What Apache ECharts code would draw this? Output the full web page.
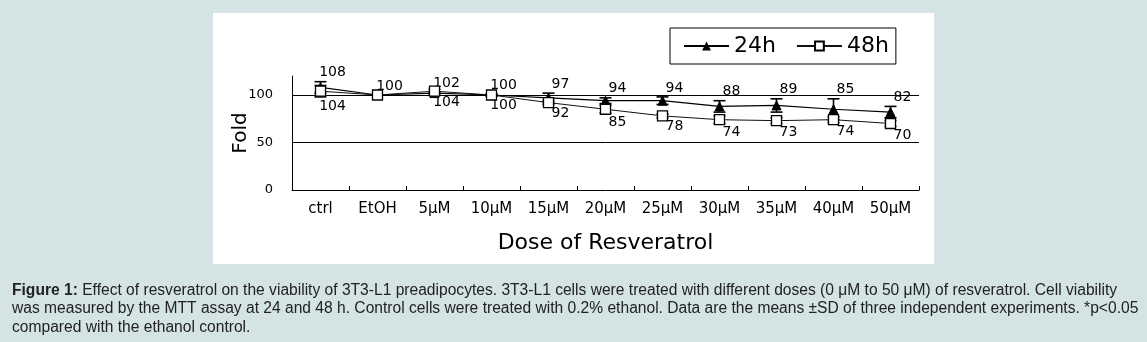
<!DOCTYPE html>
<html>
<head>
<meta charset="utf-8">
<script src="https://cdn.jsdelivr.net/npm/echarts@6/dist/echarts.min.js"></script>
<style>
html,body{margin:0;padding:0;background:#d4e3e4;}
#c{width:1147px;height:342px;}
</style>
</head>
<body>
<div id="c"></div>
<script>
var categories = ['ctrl','EtOH','5μM','10μM','15μM','20μM','25μM','30μM','35μM','40μM','50μM'];
var h24 = [108,100,102,100,97,94,94,88,89,85,82];
var h24sd = [6,0,1,1,5,3,4,6,7,11,6];
var h48 = [104,100,104,100,92,85,78,74,73,74,70];
var h48sd = [6,0,2,1,2,4,2,4,3,3,3];
var yTicks = [0,50,100];

var FONT = 'DejaVu Sans';
var chart = echarts.init(document.getElementById('c'));

function errData(vals, sds){
  return vals.map(function(v,i){ return [i, v, sds[i]]; });
}
function makeErr(labelAbove){
  return function(params, api){
    var x = api.value(0), v = api.value(1), sd = api.value(2);
    var top = api.coord([x, v + sd]);
    var bot = api.coord([x, v - sd]);
    var hw = 6;
    var st = {stroke:'#000', lineWidth:1.6};
    var children = [];
    if (sd > 0) {
      children.push({type:'line', shape:{x1:top[0],y1:top[1],x2:bot[0],y2:bot[1]}, style:st});
      children.push({type:'line', shape:{x1:top[0]-hw,y1:top[1],x2:top[0]+hw,y2:top[1]}, style:st});
      children.push({type:'line', shape:{x1:bot[0]-hw,y1:bot[1],x2:bot[0]+hw,y2:bot[1]}, style:st});
    }
    var show = labelAbove || x !== 1;
    if (show) {
      var p = labelAbove ? top : bot;
      children.push({type:'text', x:p[0]+12, y:p[1] + (labelAbove ? -9 : 9),
        style:{text:String(v), fill:'#000', font:'14px "' + FONT + '"', textAlign:'center', textVerticalAlign:'middle'}});
    }
    return {type:'group', children:children};
  };
}

var option = {
  backgroundColor:'#d4e3e4',
  animation:false,
  title:{
    text:'{b|Figure 1:} Effect of resveratrol on the viability of 3T3-L1 preadipocytes. 3T3-L1 cells were treated with different doses (0 μM to 50 μM) of resveratrol. Cell viability\nwas measured by the MTT assay at 24 and 48 h. Control cells were treated with 0.2% ethanol. Data are the means ±SD of three independent experiments. *p<0.05\ncompared with the ethanol control.',
    left:12, top:281, padding:0,
    textStyle:{fontFamily:'Liberation Sans', fontSize:15.6, fontWeight:'normal', color:'#222', lineHeight:18.5,
      rich:{b:{fontFamily:'Liberation Sans', fontSize:15.6, fontWeight:'bold', color:'#222', lineHeight:18.5}}}
  },
  graphic:[{type:'rect', z:-10, shape:{x:213,y:13,width:721,height:251}, style:{fill:'#fff'}}],
  legend:{
    left:670, top:28, orient:'horizontal',
    backgroundColor:'#fff', borderColor:'#000', borderWidth:1, padding:[7,7,7,13],
    itemGap:20, itemWidth:45, itemHeight:11,
    textStyle:{fontFamily:FONT, fontSize:22, color:'#000'},
    data:['24h','48h']
  },
  grid:{left:292, right:228, top:76, bottom:152},
  xAxis:{
    type:'category', data:categories, boundaryGap:true,
    axisLine:{lineStyle:{color:'#000', width:1}},
    axisTick:{show:true, inside:true, length:4, lineStyle:{color:'#000'}},
    axisLabel:{fontFamily:FONT, fontSize:15, color:'#000', margin:12},
    name:'Dose of Resveratrol', nameLocation:'middle', nameGap:42, nameMoveOverlap:false,
    nameTextStyle:{fontFamily:FONT, fontSize:22, color:'#000'}
  },
  yAxis:{
    type:'value', min:0, max:120, interval:50,
    axisLine:{show:true, lineStyle:{color:'#000', width:1}},
    axisTick:{show:false},
    axisLabel:{fontFamily:FONT, fontSize:13, color:'#000', margin:19,
      formatter:function(v){ return yTicks.indexOf(v) >= 0 ? String(v) : ''; }},
    splitLine:{show:true, showMinLine:false, showMaxLine:false, lineStyle:{color:'#000', width:1}},
    name:'Fold', nameLocation:'middle', nameGap:41, nameRotate:90, nameMoveOverlap:false,
    nameTextStyle:{fontFamily:FONT, fontSize:20, color:'#000'}
  },
  series:[
    {type:'custom', name:'err24', z:1, renderItem:makeErr(true), data:errData(h24,h24sd), silent:true},
    {type:'custom', name:'err48', z:1, renderItem:makeErr(false), data:errData(h48,h48sd), silent:true},
    {type:'line', name:'24h', z:3, data:h24, symbol:'triangle', symbolSize:9,
      itemStyle:{color:'#000', borderColor:'#000'}, lineStyle:{color:'#000', width:1.2}},
    {type:'line', name:'48h', z:4, data:h48, symbol:'rect', symbolSize:10,
      itemStyle:{color:'#fff', borderColor:'#000', borderWidth:1.3}, lineStyle:{color:'#111', width:1}}
  ]
};
chart.setOption(option);
</script>
</body>
</html>
